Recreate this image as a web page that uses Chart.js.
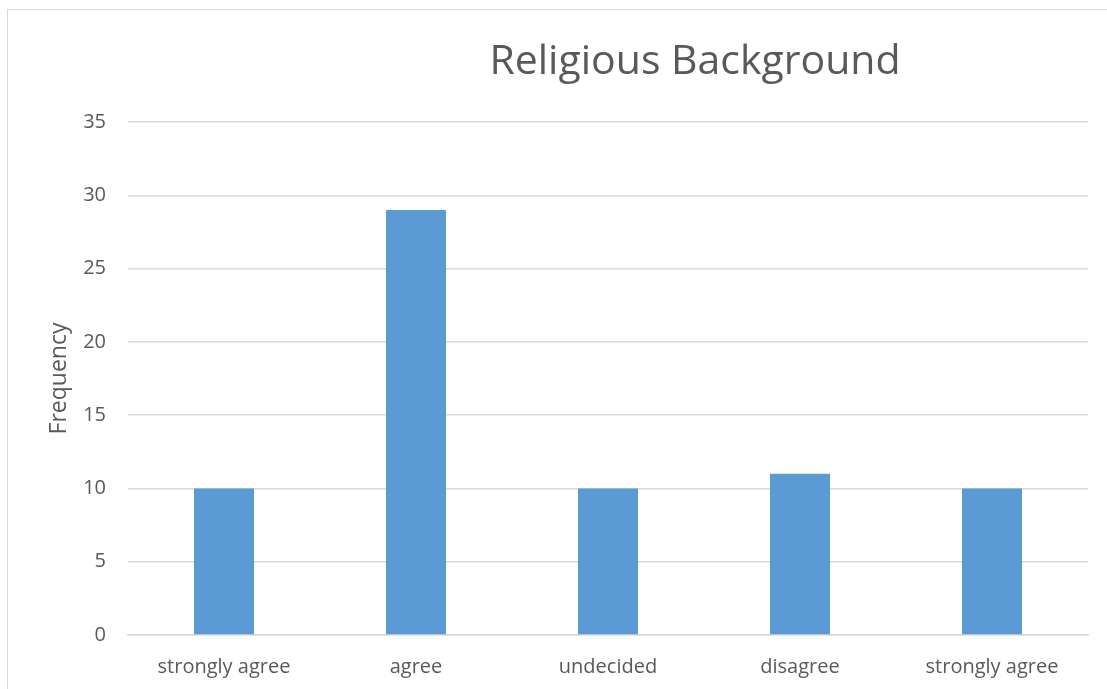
<!DOCTYPE html>
<html>
<head>
<meta charset="utf-8">
<script src="https://cdn.jsdelivr.net/npm/chart.js@4"></script>
<style>
    html, body { margin: 0; padding: 0; background: #fff; overflow: hidden; }
    #frame {
        position: absolute;
        left: 7px;
        top: 9px;
        width: 1374px;
        height: 700px;
        border: 1px solid #d9d9d9;
    }
</style>
</head>
<body>
<div id="frame"><canvas id="chart" width="1374" height="680"></canvas></div>
<script>
const categories = ['strongly agree', 'agree', 'undecided', 'disagree', 'strongly agree'];
const frequencies = [10, 29, 10, 11, 10];
const yTicks = [0, 5, 10, 15, 20, 25, 30, 35];
const chartTitle = 'Religious Background';
const yAxisTitle = 'Frequency';

const FONT = '"Open Sans", "Noto Sans", sans-serif';
const TEXT_COLOR = '#595959';
const GRID_COLOR = '#d9d9d9';

// draws the title centred over the whole chart frame, like the original
const frameTitle = {
    id: 'frameTitle',
    afterDraw(chart) {
        const ctx = chart.ctx;
        ctx.save();
        ctx.fillStyle = TEXT_COLOR;
        ctx.font = '41px ' + FONT;
        ctx.textAlign = 'center';
        ctx.textBaseline = 'alphabetic';
        ctx.fillText(chartTitle, chart.width / 2, 64);
        ctx.restore();
    }
};

new Chart(document.getElementById('chart').getContext('2d'), {
    type: 'bar',
    data: {
        labels: categories,
        datasets: [{
            label: yAxisTitle,
            data: frequencies,
            backgroundColor: '#5b9bd5',
            borderWidth: 0,
            categoryPercentage: 1,
            barPercentage: 0.3125
        }]
    },
    options: {
        responsive: false,
        animation: false,
        layout: { padding: { top: 112, right: 294, bottom: 0, left: 0 } },
        plugins: {
            legend: { display: false },
            tooltip: { enabled: false }
        },
        scales: {
            x: {
                grid: { display: false, drawTicks: false },
                border: { color: GRID_COLOR, width: 1.5 },
                ticks: {
                    color: TEXT_COLOR,
                    font: { family: FONT, size: 20 },
                    padding: 20,
                    maxRotation: 0
                },
                afterFit(scale) { scale.height = 55; }
            },
            y: {
                min: 0,
                max: 35,
                afterBuildTicks(scale) {
                    scale.ticks = yTicks.map(v => ({ value: v }));
                },
                grid: { color: GRID_COLOR, lineWidth: 1.5, drawTicks: false },
                border: { display: false },
                ticks: {
                    color: TEXT_COLOR,
                    font: { family: FONT, size: 20 },
                    padding: 22
                },
                title: {
                    display: true,
                    text: yAxisTitle,
                    color: TEXT_COLOR,
                    font: { family: FONT, size: 23 },
                    padding: { top: 38, bottom: 0 }
                },
                afterFit(scale) { scale.width = 120; }
            }
        }
    },
    plugins: [frameTitle]
});
</script>
</body>
</html>
